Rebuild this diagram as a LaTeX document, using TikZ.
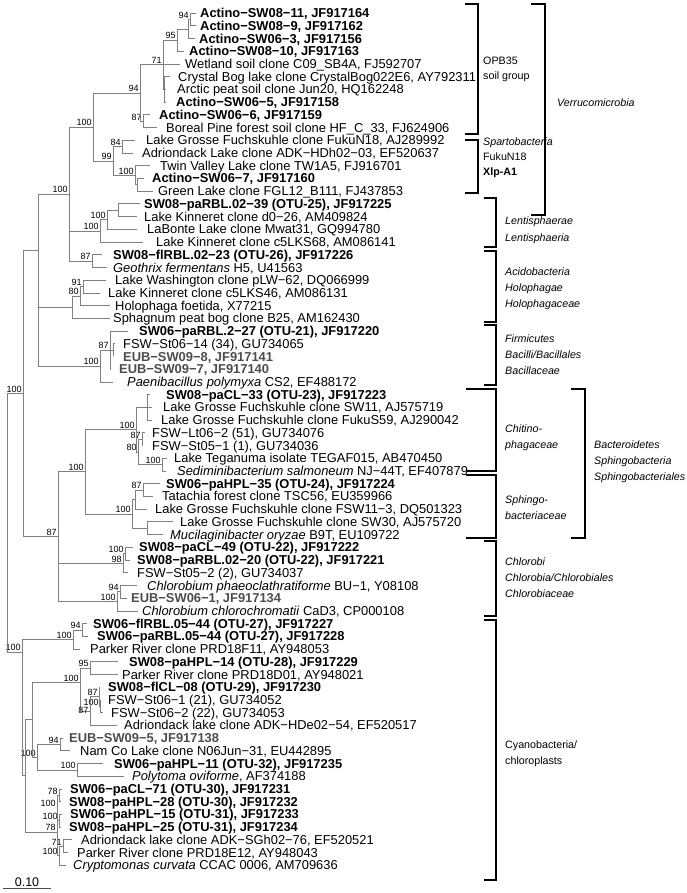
\documentclass[tikz,border=0pt]{standalone}
\usepackage{fontspec}
\setmainfont{Liberation Sans}
\usetikzlibrary{calc}
\definecolor{treeline}{gray}{0.5}
\definecolor{eubgray}{gray}{0.3}
\newcommand\leaf[5]{%
  \coordinate (#1) at (#3,{13+(#2-1)*12.72});
  \node[lf,anchor=base west] (#1t) at (#4,{13+(#2-1)*12.72+4.6}) {#5};}
\newcommand\inode[4]{\path let \p1=(#3), \p2=(#4) in coordinate (#1) at ({#2pt},{0.5*(\y1+\y2)});}
\newcommand\kids[2]{\foreach \c in {#2} {\draw[tl] (#1) |- (\c);}}
\newcommand\bs[2]{\node[bsf,anchor=south east] (#1b) at ([xshift=-1.2pt,yshift=0.8pt]#1) {#2};}
\newcommand\EUB[1]{\textbf{\color{eubgray}#1}}
\begin{document}
\begin{tikzpicture}[x=1pt,y=-1pt,
  tl/.style={draw=treeline,line width=0.65pt},
  lf/.style={inner sep=0pt,font=\fontsize{12.9}{13}\selectfont},
  bsf/.style={inner sep=0pt,font=\fontsize{9}{9}\selectfont},
  grp/.style={inner sep=0pt,anchor=base west,font=\fontsize{10.7}{12}\selectfont},
  brk/.style={draw=black,line width=1.1pt}]
\useasboundingbox (0,0) rectangle (686,893);
% ---------------- leaves
\leaf{l1}{1}{196}{200}{\textbf{Actino−SW08−11, JF917164}}
\leaf{l2}{2}{196}{200}{\textbf{Actino−SW08−9, JF917162}}
\leaf{l3}{3}{195}{199}{\textbf{Actino−SW06−3, JF917156}}
\leaf{l4}{4}{184}{189}{\textbf{Actino−SW08−10, JF917163}}
\leaf{l5}{5}{180}{185}{Wetland soil clone C09\_SB4A, FJ592707}
\leaf{l6}{6}{170}{178}{Crystal Bog lake clone CrystalBog022E6, AY792311}
\leaf{l7}{7}{166}{177}{Arctic peat soil clone Jun20, HQ162248}
\leaf{l8}{8}{166}{176}{\textbf{Actino−SW06−5, JF917158}}
\leaf{l9}{9}{150}{159}{\textbf{Actino−SW06−6, JF917159}}
\leaf{l10}{10}{157}{166}{Boreal Pine forest soil clone HF\_C\_33, FJ624906}
\leaf{l11}{11}{135}{146}{Lake Grosse Fuchskuhle clone FukuN18, AJ289992}
\leaf{l12}{12}{133}{142}{Adriondack Lake clone ADK−HDh02−03, EF520637}
\leaf{l13}{13}{150}{160}{Twin Valley Lake clone TW1A5, FJ916701}
\leaf{l14}{14}{144}{152}{\textbf{Actino−SW06−7, JF917160}}
\leaf{l15}{15}{153}{158}{Green Lake clone FGL12\_B111, FJ437853}
\leaf{l16}{16}{140}{144}{\textbf{SW08−paRBL.02−39 (OTU-25), JF917225}}
\leaf{l17}{17}{137}{144}{Lake Kinneret clone d0−26, AM409824}
\leaf{l18}{18}{137}{147}{LaBonte Lake clone Mwat31, GQ994780}
\leaf{l19}{19}{143}{156}{Lake Kinneret clone c5LKS68, AM086141}
\leaf{l20}{20}{102}{113}{\textbf{SW08−f\kern0pt lRBL.02−23 (OTU-26), JF917226}}
\leaf{l21}{21}{107}{113}{\textit{Geothrix fermentans} H5, U41563}
\leaf{l22}{22}{106}{115}{Lake Washington clone pLW−62, DQ066999}
\leaf{l23}{23}{100}{108}{Lake Kinneret clone c5LKS46, AM086131}
\leaf{l24}{24}{110}{115}{Holophaga foetida, X77215}
\leaf{l25}{25}{110}{113}{Sphagnum peat bog clone B25, AM162430}
\leaf{l26}{26}{128}{139}{\textbf{SW06−paRBL.2−27 (OTU-21), JF917220}}
\leaf{l27}{27}{115}{123}{FSW−St06−14 (34), GU734065}
\leaf{l28}{28}{113}{123}{\EUB{EUB−SW09−8, JF917141}}
\leaf{l29}{29}{111}{119}{\EUB{EUB−SW09−7, JF917140}}
\leaf{l30}{30}{113}{127}{\textit{Paenibacillus polymyxa} CS2, EF488172}
\leaf{l31}{31}{150}{166}{\textbf{SW08−paCL−33 (OTU-23), JF917223}}
\leaf{l32}{32}{152}{163}{Lake Grosse Fuchskuhle clone SW11, AJ575719}
\leaf{l33}{33}{152}{161}{Lake Grosse Fuchskuhle clone FukuS59, AJ290042}
\leaf{l34}{34}{145}{152}{FSW−Lt06−2 (51), GU734076}
\leaf{l35}{35}{143}{152}{FSW−St05−1 (1), GU734036}
\leaf{l36}{36}{167}{174}{Lake Teganuma isolate TEGAF015, AB470450}
\leaf{l37}{37}{166}{177}{\textit{Sediminibacterium salmoneum} NJ−44T, EF407879}
\leaf{l38}{38}{160}{166}{\textbf{SW06−paHPL−35 (OTU-24), JF917224}}
\leaf{l39}{39}{153}{162}{Tatachia forest clone TSC56, EU359966}
\leaf{l40}{40}{147}{155}{Lake Grosse Fuchskuhle clone FSW11−3, DQ501323}
\leaf{l41}{41}{173}{180}{Lake Grosse Fuchskuhle clone SW30, AJ575720}
\leaf{l42}{42}{163}{170}{\textit{Mucilaginibacter oryzae} B9T, EU109722}
\leaf{l43}{43}{133}{139}{\textbf{SW08−paCL−49 (OTU-22), JF917222}}
\leaf{l44}{44}{130}{137}{\textbf{SW08−paRBL.02−20 (OTU-22), JF917221}}
\leaf{l45}{45}{128}{137}{FSW−St05−2 (2), GU734037}
\leaf{l46}{46}{137}{147}{\textit{Chlorobium phaeoclathratiforme} BU−1, Y08108}
\leaf{l47}{47}{127}{131}{\EUB{EUB−SW06−1, JF917134}}
\leaf{l48}{48}{138}{142}{\textit{Chlorobium chlorochromatii} CaD3, CP000108}
\leaf{l49}{49}{87}{93}{\textbf{SW06−f\kern0pt lRBL.05−44 (OTU-27), JF917227}}
\leaf{l50}{50}{88}{97}{\textbf{SW06−paRBL.05−44 (OTU-27), JF917228}}
\leaf{l51}{51}{80}{90}{Parker River clone PRD18F11, AY948053}
\leaf{l52}{52}{118}{129}{\textbf{SW08−paHPL−14 (OTU-28), JF917229}}
\leaf{l53}{53}{118}{122}{Parker River clone PRD18D01, AY948021}
\leaf{l54}{54}{100}{108}{\textbf{SW08−f\kern0pt lCL−08 (OTU-29), JF917230}}
\leaf{l55}{55}{101}{108}{FSW−St06−1 (21), GU734052}
\leaf{l56}{56}{103}{111}{FSW−St06−2 (22), GU734053}
\leaf{l57}{57}{117}{124}{Adriondack lake clone ADK−HDe02−54, EF520517}
\leaf{l58}{58}{63}{69}{\EUB{EUB−SW09−5, JF917138}}
\leaf{l59}{59}{70}{80}{Nam Co Lake clone N06Jun−31, EU442895}
\leaf{l60}{60}{103}{114}{\textbf{SW06−paHPL−11 (OTU-32), JF917235}}
\leaf{l61}{61}{124}{132}{\textit{Polytoma oviforme}, AF374188}
\leaf{l62}{62}{62}{70}{\textbf{SW06−paCL−71 (OTU-30), JF917231}}
\leaf{l63}{63}{61}{69}{\textbf{SW08−paHPL−28 (OTU-30), JF917232}}
\leaf{l64}{64}{62}{70}{\textbf{SW06−paHPL−15 (OTU-31), JF917233}}
\leaf{l65}{65}{61}{69}{\textbf{SW08−paHPL−25 (OTU-31), JF917234}}
\leaf{l66}{66}{72}{81}{Adriondack lake clone ADK−SGh02−76, EF520521}
\leaf{l67}{67}{68}{77}{Parker River clone PRD18E12, AY948043}
\leaf{l68}{68}{66}{73}{\textit{Cryptomonas curvata} CCAC 0006, AM709636}
% ---------------- internal nodes
\inode{a1}{190}{l1}{l2}      \kids{a1}{l1,l2}      \bs{a1}{94}
\inode{a1b}{188}{a1}{l3}     \kids{a1b}{a1,l3}
\inode{a2}{177}{a1b}{l4}     \kids{a2}{a1b,l4}     \bs{a2}{95}
\inode{a4}{164}{l6}{l8}      \kids{a4}{l6,l7,l8}
\inode{a3}{163}{a2}{a4}      \kids{a3}{a2,l5,a4}   \bs{a3}{71}
\inode{a5}{143}{l9}{l10}     \kids{a5}{l9,l10}     \bs{a5}{87}
\inode{a6}{140}{a3}{a5}      \kids{a6}{a3,a5}      \bs{a6}{94}
\inode{s84}{122}{l11}{l12}   \kids{s84}{l11,l12}   \bs{s84}{84}
\inode{s2}{137}{l14}{l15}    \kids{s2}{l14,l15}
\inode{s100}{135}{l13}{s2}   \kids{s100}{l13,s2}   \bs{s100}{100}
\inode{s99}{113}{s84}{s100}  \kids{s99}{s84,s100}  \bs{s99}{99}
\inode{v1}{93}{a6}{s99}      \kids{v1}{a6,s99}     \bs{v1}{100}
\inode{ln1}{118}{l16}{l17}   \kids{ln1}{l16,l17}
\inode{ln2}{107}{ln1}{l18}   \kids{ln2}{ln1,l18}   \bs{ln2}{100}
\inode{ln3}{100}{ln2}{l19}   \kids{ln3}{ln2,l19}   \bs{ln3}{100}
\inode{x87}{92}{l20}{l21}    \kids{x87}{l20,l21}   \bs{x87}{87}
\inode{v0}{69}{v1}{x87}      \kids{v0}{v1,ln3,x87} \bs{v0}{100}
\inode{xB}{83}{l22}{l23}     \kids{xB}{l22,l23}    \bs{xB}{91}
\inode{x80}{80}{xB}{l24}     \kids{x80}{xB,l24}    \bs{x80}{80}
\inode{xa}{72}{x80}{l25}     \kids{xa}{x80,l25}
\inode{f1}{113}{l27}{l28}    \kids{f1}{l27,l28}
\inode{f2}{110}{l26}{l29}    \kids{f2}{l26,f1,l29} \bs{f2}{87}
\inode{f3}{100}{f2}{l30}     \kids{f3}{f2,l30}     \bs{f3}{100}
\inode{A1}{38}{v0}{xa}       \kids{A1}{v0,xa,f3}
\inode{c1}{147}{l31}{l33}    \kids{c1}{l31,l32,l33}
\inode{c2}{142}{l34}{l35}    \kids{c2}{l34,l35}    \bs{c2}{87}
\inode{c4}{162}{l36}{l37}    \kids{c4}{l36,l37}    \bs{c4}{100}
\inode{c3}{138}{c2}{c4}      \kids{c3}{c2,c4}      \bs{c3}{80}
\inode{c5}{136}{c1}{c3}      \kids{c5}{c1,c3}      \bs{c5}{100}
\inode{s3}{143}{l38}{l39}    \kids{s3}{l38,l39}    \bs{s3}{87}
\inode{sb2}{135}{s3}{l40}    \kids{sb2}{s3,l40}
\inode{s4}{147}{l41}{l42}    \kids{s4}{l41,l42}
\inode{s1}{132}{sb2}{s4}     \kids{s1}{sb2,s4}     \bs{s1}{100}
\inode{B1}{85}{c5}{s1}       \kids{B1}{c5,s1}      \bs{B1}{100}
\inode{cl1a}{125}{l43}{l44}  \kids{cl1a}{l43,l44}  \bs{cl1a}{100}
\inode{cl1}{123}{cl1a}{l45}  \kids{cl1}{cl1a,l45}  \bs{cl1}{98}
\inode{cl2}{120}{l46}{l47}   \kids{cl2}{l46,l47}   \bs{cl2}{94}
\inode{cl3}{117}{cl2}{l48}   \kids{cl3}{cl2,l48}   \bs{cl3}{100}
\inode{B0}{58}{B1}{cl3}      \kids{B0}{B1,cl1,cl3} \bs{B0}{87}
\inode{U}{23}{A1}{B0}        \kids{U}{A1,B0}       \bs{U}{100}
% cyanobacteria
\inode{cy1}{82}{l49}{l50}    \kids{cy1}{l49,l50}   \bs{cy1}{94}
\inode{cy2}{73}{cy1}{l51}    \kids{cy2}{cy1,l51}   \bs{cy2}{100}
\inode{cy3}{90}{l52}{l53}    \kids{cy3}{l52,l53}   \bs{cy3}{95}
\inode{d1}{100}{l55}{l56}    \kids{d1}{l55,l56}    \bs{d1}{100}
\inode{d2}{99}{l54}{d1}      \kids{d2}{l54,d1}     \bs{d2}{87}
\inode{d3}{90}{d2}{l57}      \kids{d3}{d2,l57}
\inode{d4}{80}{cy3}{d2}      \kids{d4}{cy3,d3}     \bs{d4}{100}
\node[bsf,anchor=south east] (d3b) at (88.5,714) {87};
\inode{e}{60}{l58}{l59}      \kids{e}{l58,l59}     \bs{e}{94}
\inode{p}{77}{l60}{l61}      \kids{p}{l60,l61}     \bs{p}{100}
\inode{n100}{37}{e}{p}       \kids{n100}{e,p}      \bs{n100}{100}
\inode{q1}{59}{l62}{l63}     \kids{q1}{l62,l63}    \bs{q1}{78}
\inode{q2}{59}{l64}{l65}     \kids{q2}{l64,l65}    \bs{q2}{100}
\inode{q3}{57}{q1}{q2}       \kids{q3}{q1,q2}      \bs{q3}{100}
\inode{r1}{63}{l66}{l67}     \kids{r1}{l66,l67}    \bs{r1}{71}
\inode{r2}{59}{r1}{l68}      \kids{r2}{r1,l68}     \bs{r2}{100}
\inode{q4}{57}{q3}{r2}       \kids{q4}{q3,r2}      \bs{q4}{78}
\inode{m}{32}{d4}{n100}      \kids{m}{d4,n100}
\inode{k}{25}{m}{q4}         \kids{k}{m,q4}
\coordinate (cy0) at (22,652);
\kids{cy0}{cy2,k}            \bs{cy0}{100}
\inode{R}{7}{U}{cy0}         \kids{R}{U,cy0}
% ---------------- scale bar
\coordinate (sb1) at (3,888); \coordinate (sb2) at (51,888);
\draw[draw=black!70,line width=0.8pt] (sb1) -- (sb2);
\node[inner sep=0pt,anchor=base,font=\fontsize{12.5}{13}\selectfont] (sbl) at (27,886) {0.10};
% ---------------- brackets
\newcommand\brak[4]{\draw[brk] (#1,#3) -- (#2,#3) -- (#2,#4) -- (#1,#4);}
\brak{465}{478}{4}{134}
\brak{465}{478}{140}{193}
\brak{531}{545}{4}{215}
\brak{484}{496}{198}{247}
\brak{484}{496}{251}{322}
\brak{484}{496}{325}{385}
\brak{466}{496}{389}{471}
\brak{466}{496}{475}{538}
\brak{571}{585}{389}{538}
\brak{484}{496}{541}{616}
\brak{484}{496}{620}{880}
\node[grp] (g1) at (483,65) {OPB35};
\node[grp] (g2) at (483,80) {soil group};
\node[grp] (g3) at (483,146) {\textit{Spartobacteria}};
\node[grp] (g4) at (483,161) {FukuN18};
\node[grp] (g5) at (483,176) {\textbf{Xlp-A1}};
\node[grp] (g6) at (557,107) {\textit{Verrucomicrobia}};
\node[grp] (g7) at (505,225) {\textit{Lentisphaerae}};
\node[grp] (g8) at (505,241) {\textit{Lentisphaeria}};
\node[grp] (g9) at (505,275) {\textit{Acidobacteria}};
\node[grp] (g10) at (505,291) {\textit{Holophagae}};
\node[grp] (g11) at (505,307) {\textit{Holophagaceae}};
\node[grp] (g12) at (505,342) {\textit{Firmicutes}};
\node[grp] (g13) at (505,358) {\textit{Bacilli/Bacillales}};
\node[grp] (g14) at (505,374) {\textit{Bacillaceae}};
\node[grp] (g15) at (505,432) {\textit{Chitino-}};
\node[grp] (g16) at (505,448) {\textit{phagaceae}};
\node[grp] (g17) at (505,503) {\textit{Sphingo-}};
\node[grp] (g18) at (505,519) {\textit{bacteriaceae}};
\node[grp] (g19) at (594,448) {\textit{Bacteroidetes}};
\node[grp] (g20) at (594,464) {\textit{Sphingobacteria}};
\node[grp] (g21) at (594,480) {\textit{Sphingobacteriales}};
\node[grp] (g22) at (505,565) {\textit{Chlorobi}};
\node[grp] (g23) at (505,581) {\textit{Chlorobia/Chlorobiales}};
\node[grp] (g24) at (505,597) {\textit{Chlorobiaceae}};
\node[grp] (g25) at (505,748) {Cyanobacteria/};
\node[grp] (g26) at (505,764) {chloroplasts};
\end{tikzpicture}
\end{document}
